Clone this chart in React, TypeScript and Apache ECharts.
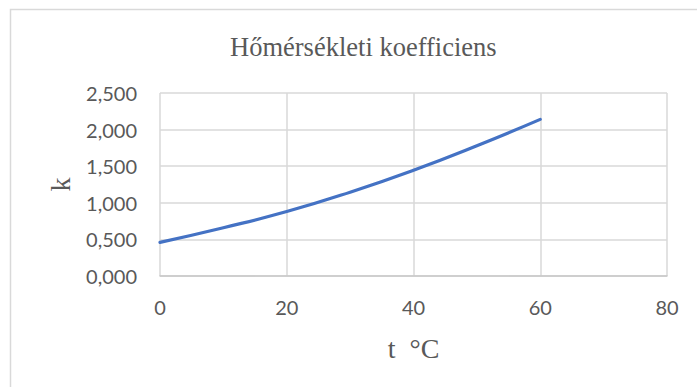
import React, { useEffect, useRef } from "react";
import * as echarts from "echarts";

// Temperature (°C) and the corresponding coefficient k
const temperatures = [0, 10, 20, 30, 40, 50, 60];
const coefficients = [0.46, 0.66, 0.88, 1.145, 1.445, 1.78, 2.14];

const xTicks = { min: 0, max: 80, interval: 20 };
const yTicks = { min: 0, max: 2.5, interval: 0.5 };

const titleText = "Hőmérsékleti koefficiens";
const xName = "t  °C";
const yName = "k";

const textGray = "#595959";
const gridGray = "#d9d9d9";
const lineBlue = "#4472c4";
const serif = "'Liberation Serif', 'Times New Roman', serif";
const sans = "Lato, 'Open Sans', sans-serif";

export default function App() {
  const ref = useRef<HTMLDivElement>(null);

  useEffect(() => {
    if (!ref.current) return;
    const chart = echarts.init(ref.current, undefined, { renderer: "svg" });
    chart.setOption({
      animation: false,
      backgroundColor: "#ffffff",
      title: {
        text: titleText,
        left: 225,
        top: 28,
        textStyle: {
          fontFamily: serif,
          fontSize: 26.5,
          fontWeight: "normal",
          color: textGray,
        },
      },
      graphic: [
        {
          type: "rect",
          shape: { x: 10.5, y: 9.5, width: 800, height: 500 },
          style: { fill: "none", stroke: gridGray, lineWidth: 1.5 },
          silent: true,
          z: -1,
        },
      ],
      grid: { left: 160, right: 30, top: 93, bottom: 111 },
      xAxis: {
        type: "value",
        min: xTicks.min,
        max: xTicks.max,
        interval: xTicks.interval,
        name: xName,
        nameLocation: "middle",
        nameGap: 58,
        nameTextStyle: {
          fontFamily: serif,
          fontSize: 28,
          color: textGray,
        },
        axisLine: { show: true, lineStyle: { color: "#c8c8c8", width: 1.5 } },
        axisTick: { show: false },
        axisLabel: {
          fontFamily: sans,
          fontSize: 20,
          color: textGray,
          margin: 21,
        },
        splitLine: { show: true, lineStyle: { color: gridGray, width: 1.5 } },
      },
      yAxis: {
        type: "value",
        min: yTicks.min,
        max: yTicks.max,
        interval: yTicks.interval,
        name: yName,
        nameLocation: "middle",
        nameGap: 86,
        nameTextStyle: {
          fontFamily: serif,
          fontSize: 28,
          color: textGray,
        },
        axisLine: { show: false },
        axisTick: { show: false },
        axisLabel: {
          fontFamily: sans,
          fontSize: 20,
          color: textGray,
          margin: 23,
          formatter: (v: number) => v.toFixed(3).replace(".", ","),
        },
        splitLine: { show: true, lineStyle: { color: gridGray, width: 1.5 } },
      },
      series: [
        {
          type: "line",
          data: temperatures.map((t, i) => [t, coefficients[i]]),
          smooth: true,
          showSymbol: false,
          lineStyle: { color: lineBlue, width: 3.2, cap: "round" },
        },
      ],
    });
    return () => chart.dispose();
  }, []);

  return (
    <div
      ref={ref}
      style={{ position: "fixed", left: 0, top: 0, width: 697, height: 387 }}
    />
  );
}
